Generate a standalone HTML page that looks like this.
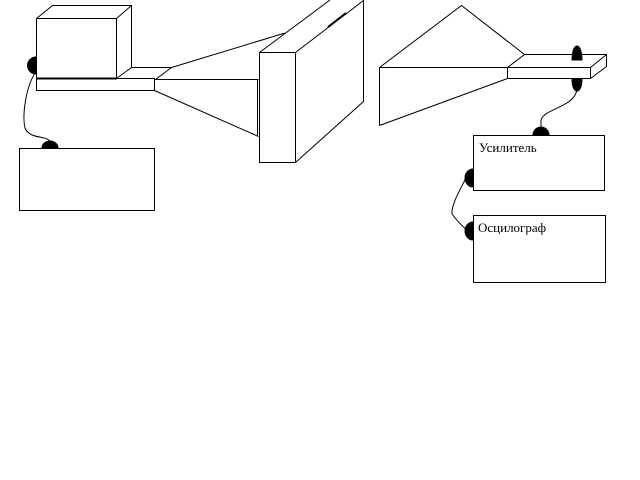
<!DOCTYPE html>
<html><head><style>body{margin:0;background:#fff}svg{display:block}</style></head><body>
<svg width="640" height="480" viewBox="0 0 640 480" xmlns="http://www.w3.org/2000/svg" fill="none" stroke="#000" stroke-width="1">
<rect x="36.5" y="18.5" width="80" height="60"/>
<polyline points="36.5,18.5 52.5,5.5 131.5,5.5 131.5,67.5 116.5,78.5"/>
<line x1="116.5" y1="18.5" x2="131.5" y2="5.5"/>
<line x1="36" y1="78.5" x2="117" y2="78.5" stroke-width="2"/>
<rect x="36.5" y="78.5" width="118" height="12"/>
<polyline points="131.5,67.5 171.5,67.5 155.5,79.5"/>
<line x1="171.5" y1="67.5" x2="285" y2="33"/>
<line x1="154.5" y1="79.5" x2="258.5" y2="79.5"/>
<line x1="154.5" y1="90.5" x2="258.5" y2="136.5"/>
<line x1="257.5" y1="79.5" x2="257.5" y2="136.5"/>
<rect x="259.5" y="52.5" width="36" height="110"/>
<polyline points="259.5,52.5 330,0"/>
<polyline points="295.5,52.5 363.5,0.5 363.5,101.5 295.5,162.5"/>
<line x1="328" y1="27" x2="346" y2="13" stroke-width="2"/>
<rect x="19.5" y="148.5" width="135" height="62"/>
<path d="M36,72 C26,85 22,115 25,128 C30,140 48,135 50,142"/>
<path d="M36,57 A8,8 0 0 0 36,74 Z" fill="#000"/>
<path d="M42,148 A8,7 0 0 1 58,148 Z" fill="#000"/>
<polyline points="379.5,125.5 379.5,67.5 461.5,5.5 524.5,54.5"/>
<line x1="379.5" y1="67.5" x2="507.5" y2="67.5"/>
<line x1="379.5" y1="125.5" x2="507.5" y2="78.5"/>
<rect x="507.5" y="67.5" width="83" height="11"/>
<polyline points="507.5,67.5 524.5,54.5 606.5,54.5 606.5,66.5 590.5,78.5"/>
<line x1="590.5" y1="67.5" x2="606.5" y2="54.5"/>
<path d="M572,60 C572,52 574,46 577,46 C580,46 582,52 582,60 Z" fill="#000"/>
<path d="M572,79 L582,79 C582,86 580,91 577,91 C574,91 572,86 572,79 Z" fill="#000"/>
<path d="M577,90 C573,108 545,108 541,120 L541,128"/>
<path d="M533,135 A8,8 0 0 1 549,135 Z" fill="#000"/>
<rect x="473.5" y="135.5" width="131" height="55"/>
<rect x="473.5" y="215.5" width="132" height="67"/>
<path d="M473,169 A8,9 0 0 0 473,187 Z" fill="#000"/>
<path d="M473,222 A8,9 0 0 0 473,240 Z" fill="#000"/>
<path d="M466,178 C460,190 451,205 452,214 C458,222 462,226 467,230"/>
<text x="479" y="152" font-family="Liberation Serif, serif" font-size="13" fill="#000" stroke="none">Усилитель</text>
<text x="478" y="232" font-family="Liberation Serif, serif" font-size="13" fill="#000" stroke="none">Осцилограф</text>
</svg>
</body></html>
